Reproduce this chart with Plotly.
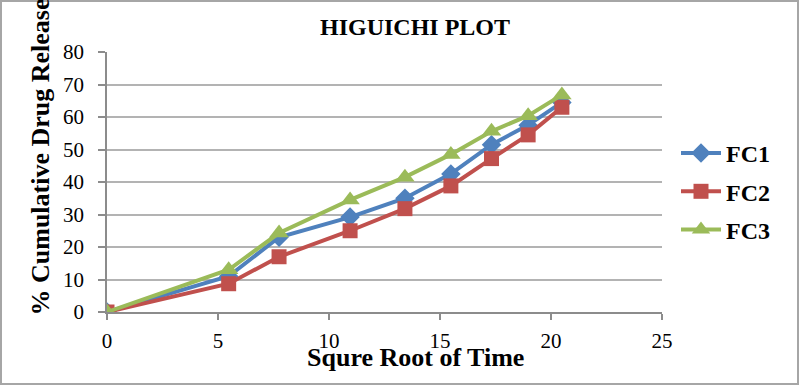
import plotly.graph_objects as go

sqrt_time = [0, 5.48, 7.75, 10.95, 13.42, 15.49, 17.32, 18.97, 20.49]
fc1 = [0, 11, 23, 29.2, 35, 42.5, 51.5, 57.5, 64.5]
fc2 = [0, 8.7, 17, 25, 31.8, 38.8, 47.2, 54.5, 63]
fc3 = [0, 13, 24.3, 34.5, 41.5, 48.5, 55.6, 60.4, 66.8]

series = [
    ("FC1", fc1, "#4F81BD", "diamond", 15),
    ("FC2", fc2, "#C0504D", "square", 15),
    ("FC3", fc3, "#9BBB59", "triangle-up", 17),
]

serif = "Liberation Serif, Times New Roman, serif"

fig = go.Figure()
for i, (name, vals, color, sym, sz) in enumerate(series):
    fig.add_trace(go.Scatter(
        x=sqrt_time, y=vals, name=name, mode="lines+markers",
        line=dict(color=color, width=4),
        marker=dict(symbol=sym, size=sz, color=color),
        legendgroup=name,
    ))

L, R, T, B = 107, 138, 52, 74
W, H = 800, 386
pw, ph = W - L - R, H - T - B

def px_x(x):
    return (x - L) / pw

def px_y(y):
    return (H - B - y) / ph

fig.update_layout(
    width=W, height=H,
    margin=dict(l=L, r=R, t=T, b=B),
    paper_bgcolor="white", plot_bgcolor="white",
    showlegend=True,
    legend=dict(
        x=px_x(676), y=px_y(131), xanchor="left", yanchor="top",
        font=dict(family=serif, size=24, color="black", weight="bold"),
        tracegroupgap=4, itemwidth=40, bgcolor="rgba(0,0,0,0)",
    ),
    xaxis=dict(
        range=[0, 25], tickvals=[0, 5, 10, 15, 20, 25],
        showgrid=False, zeroline=False,
        showline=True, linecolor="#8c8c8c", linewidth=1.5,
        ticks="outside", ticklen=6, tickcolor="#8c8c8c", tickwidth=1.5,
        tickfont=dict(family=serif, size=21, color="black"),
        ticklabelstandoff=3,
    ),
    yaxis=dict(
        range=[0, 80], tickvals=[0, 10, 20, 30, 40, 50, 60, 70, 80],
        showgrid=True, gridcolor="#b3b3b3", gridwidth=1.5,
        zeroline=False,
        showline=True, linecolor="#8c8c8c", linewidth=1.5,
        ticks="outside", ticklen=7, tickcolor="#8c8c8c", tickwidth=1.5,
        tickfont=dict(family=serif, size=21, color="black"),
        ticklabelstandoff=10,
    ),
    annotations=[
        dict(text="HIGUICHI PLOT", xref="paper", yref="paper",
             x=px_x(415), y=px_y(27), xanchor="center", yanchor="middle",
             showarrow=False, font=dict(family=serif, size=24, color="black", weight="bold")),
        dict(text="Squre Root of Time", xref="paper", yref="paper",
             x=px_x(415), y=px_y(357), xanchor="center", yanchor="middle",
             showarrow=False, font=dict(family=serif, size=26, color="black", weight="bold")),
        dict(text="% Cumulative Drug Release", xref="paper", yref="paper",
             x=px_x(40), y=px_y(318), xanchor="center", yanchor="bottom",
             textangle=-90,
             showarrow=False, font=dict(family=serif, size=26, color="black", weight="bold")),
    ],
    shapes=[
        dict(type="rect", xref="paper", yref="paper",
             x0=px_x(1), x1=px_x(798), y0=px_y(384), y1=px_y(1),
             line=dict(color="#a6a6a6", width=2), fillcolor="rgba(0,0,0,0)", layer="below"),
    ],
)

fig.write_html("out.html")
